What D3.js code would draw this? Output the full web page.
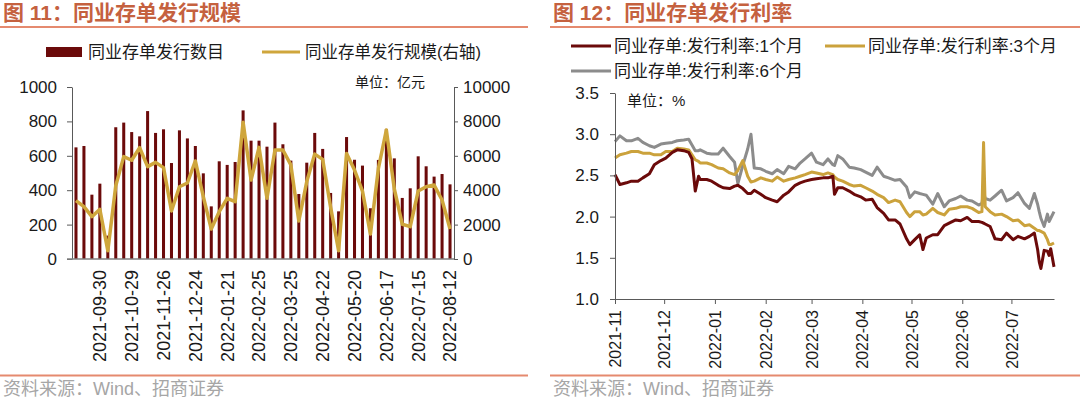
<!DOCTYPE html>
<html>
<head>
<meta charset="utf-8">
<script src="https://cdn.jsdelivr.net/npm/d3@7"></script>
<style>
  body { margin: 0; background: #fff; }
  svg { display: block; font-family: "Liberation Sans", "Noto Sans CJK SC", sans-serif; }
</style>
</head>
<body>
<div id="wrapper"></div>
<script>
// ---- chart 11 data (weekly) ----
const weekDates = [
  "2021-09-10","2021-09-17","2021-09-24","2021-09-30","2021-10-08","2021-10-15","2021-10-22","2021-10-29",
  "2021-11-05","2021-11-12","2021-11-19","2021-11-26","2021-12-03","2021-12-10","2021-12-17","2021-12-24",
  "2021-12-31","2022-01-07","2022-01-14","2022-01-21","2022-01-28","2022-02-11","2022-02-18","2022-02-25",
  "2022-03-04","2022-03-11","2022-03-18","2022-03-25","2022-04-01","2022-04-08","2022-04-15","2022-04-22",
  "2022-04-29","2022-05-06","2022-05-13","2022-05-20","2022-05-27","2022-06-03","2022-06-10","2022-06-17",
  "2022-06-24","2022-07-01","2022-07-08","2022-07-15","2022-07-22","2022-07-29","2022-08-05","2022-08-12"
]
const issueCount = [
  649, 657, 374, 438, 136, 766, 793, 738, 713, 860, 733, 754, 558, 748, 701, 657,
  498, 306, 568, 547, 564, 864, 688, 688, 653, 793, 667, 572, 378, 560, 733, 640,
  384, 277, 709, 577, 543, 295, 576, 756, 585, 355, 411, 597, 539, 479, 494, 434
]
const issueAmount = [
  3390, 3040, 2460, 2890, 480, 4260, 5950, 5740, 6470, 5370, 5620, 5310, 2790, 4200, 4420, 5700,
  3620, 1740, 2750, 3530, 3330, 7950, 4590, 6490, 3530, 6340, 6340, 5470, 2210, 4500, 6100, 5790,
  3000, 480, 6140, 5170, 3950, 1450, 5270, 7500, 4070, 2020, 1880, 3950, 4200, 4300, 3430, 1740
]
const countTicks = [0, 200, 400, 600, 800, 1000]
const amountTicks = [0, 2000, 4000, 6000, 8000, 10000]

// ---- chart 12 data ----
const rateDates = [
  "2021-11-01","2021-11-04","2021-11-08","2021-11-11","2021-11-15","2021-11-18","2021-11-22","2021-11-25",
  "2021-11-29","2021-12-02","2021-12-06","2021-12-09","2021-12-13","2021-12-16","2021-12-18","2021-12-20",
  "2021-12-22","2021-12-23","2021-12-27","2021-12-30","2022-01-03","2022-01-06","2022-01-10","2022-01-13",
  "2022-01-15","2022-01-18","2022-01-21","2022-01-23","2022-01-25","2022-01-29","2022-02-01","2022-02-05",
  "2022-02-08","2022-02-12","2022-02-15","2022-02-19","2022-02-22","2022-02-25","2022-03-01","2022-03-04",
  "2022-03-08","2022-03-11","2022-03-14","2022-03-15","2022-03-17","2022-03-20","2022-03-24","2022-03-27",
  "2022-03-31","2022-04-03","2022-04-07","2022-04-10","2022-04-14","2022-04-17","2022-04-21","2022-04-24",
  "2022-04-28","2022-04-30","2022-05-03","2022-05-06","2022-05-08","2022-05-10","2022-05-14","2022-05-17",
  "2022-05-21","2022-05-24","2022-05-28","2022-05-31","2022-06-04","2022-06-07","2022-06-11","2022-06-13",
  "2022-06-14","2022-06-15","2022-06-18","2022-06-21","2022-06-25","2022-06-28","2022-07-02","2022-07-05",
  "2022-07-09","2022-07-12","2022-07-15","2022-07-17","2022-07-18","2022-07-19","2022-07-21","2022-07-23",
  "2022-07-24","2022-07-25","2022-07-27"
]
const rate1m = [
  2.51,2.39,2.41,2.43,2.43,2.47,2.52,2.63,2.68,2.71,2.78,2.81,2.80,2.78,2.70,2.31,
  2.49,2.45,2.45,2.43,2.38,2.35,2.34,2.37,2.38,2.34,2.28,2.28,2.32,2.27,2.23,2.20,
  2.18,2.26,2.30,2.38,2.41,2.43,2.45,2.46,2.47,2.47,2.49,2.27,2.35,2.35,2.31,2.27,
  2.24,2.20,2.21,2.11,2.04,1.96,1.96,1.91,1.73,1.66,1.72,1.78,1.60,1.74,1.78,1.78,
  1.89,1.92,1.96,1.95,1.99,1.94,1.94,1.93,1.92,1.91,1.88,1.73,1.72,1.80,1.72,1.76,
  1.73,1.76,1.80,1.60,1.45,1.37,1.59,1.58,1.53,1.61,1.39
]
const rate3m = [
  2.71,2.75,2.77,2.79,2.79,2.77,2.77,2.75,2.75,2.79,2.79,2.83,2.82,2.81,2.75,2.69,
  2.67,2.65,2.65,2.63,2.59,2.58,2.53,2.51,2.56,2.68,2.49,2.42,2.43,2.47,2.45,2.43,
  2.48,2.43,2.45,2.47,2.49,2.51,2.54,2.53,2.51,2.53,2.51,2.48,2.45,2.43,2.39,2.37,
  2.38,2.35,2.31,2.27,2.23,2.17,2.20,2.18,2.05,2.00,2.06,2.06,2.02,2.03,2.10,2.05,
  2.02,2.09,2.10,2.12,2.12,2.10,2.05,2.06,2.90,2.12,2.06,2.02,2.03,2.00,1.95,1.96,
  1.89,1.90,1.86,1.83,1.83,1.82,1.80,1.72,1.66,1.66,1.68
]
const rate6m = [
  2.91,2.98,2.92,2.92,2.95,2.90,2.86,2.84,2.88,2.89,2.90,2.92,2.93,2.94,2.87,2.80,
  2.80,2.81,2.77,2.76,2.76,2.83,2.73,2.66,2.40,2.62,2.82,3.00,2.59,2.58,2.55,2.52,
  2.57,2.52,2.61,2.58,2.65,2.70,2.77,2.66,2.63,2.70,2.63,2.62,2.74,2.70,2.60,2.59,
  2.57,2.54,2.50,2.60,2.49,2.47,2.44,2.45,2.36,2.23,2.30,2.28,2.27,2.26,2.15,2.28,
  2.12,2.19,2.22,2.25,2.20,2.19,2.14,2.16,2.30,2.22,2.20,2.25,2.32,2.19,2.23,2.29,
  2.16,2.10,2.28,2.15,2.06,1.98,1.88,2.03,1.94,1.98,2.06
]
const rateTicks = [1.0, 1.5, 2.0, 2.5, 3.0, 3.5]
const monthTicks = ["2021-11","2021-12","2022-01","2022-02","2022-03","2022-04","2022-05","2022-06","2022-07"]
const rateSeries = [
  {name: "同业存单:发行利率:1个月", values: rate1m, color: "#6b0a0a"},
  {name: "同业存单:发行利率:3个月", values: rate3m, color: "#cba23c"},
  {name: "同业存单:发行利率:6个月", values: rate6m, color: "#8c8c8c"},
]

const titleColor = "#c5613f"
const ruleColor = "#e58a6f"
const barColor = "#6b0a0a"
const amountColor = "#cfa63c"

function drawCharts() {
  const svg = d3.select("#wrapper").append("svg")
      .attr("width", 1080)
      .attr("height", 398)

  // panel frames: title, rules, source
  const panels = [
    {x: 3, ruleX0: 0, ruleX1: 528, title: "图 11：同业存单发行规模"},
    {x: 553, ruleX0: 550, ruleX1: 1080, title: "图 12：同业存单发行利率"},
  ]
  panels.forEach(p => {
    svg.append("text")
        .attr("x", p.x).attr("y", 20)
        .attr("font-size", 21).attr("font-weight", 700)
        .attr("fill", titleColor)
        .text(p.title)
    svg.append("line")
        .attr("x1", p.ruleX0).attr("x2", p.ruleX1)
        .attr("y1", 27).attr("y2", 27)
        .attr("stroke", ruleColor).attr("stroke-width", 2)
    svg.append("line")
        .attr("x1", p.ruleX0).attr("x2", p.ruleX1)
        .attr("y1", 375.5).attr("y2", 375.5)
        .attr("stroke", ruleColor).attr("stroke-width", 2)
    svg.append("text")
        .attr("x", p.x).attr("y", 395)
        .attr("font-size", 18)
        .attr("fill", "#a6a6a6")
        .text("资料来源：Wind、招商证券")
  })

  // ================= chart 11 =================
  const left = {x0: 72, x1: 454, y0: 259, y1: 87}

  const xBand = d3.scaleBand()
      .domain(weekDates)
      .range([left.x0, left.x1])
      .paddingInner(0.62)
      .paddingOuter(0.31)

  const yCount = d3.scaleLinear()
      .domain([0, 1000])
      .range([left.y0, left.y1])

  const yAmount = d3.scaleLinear()
      .domain([0, 10000])
      .range([left.y0, left.y1])

  const c11 = svg.append("g")

  c11.selectAll("rect.bar")
      .data(issueCount).enter().append("rect")
          .attr("class", "bar")
          .attr("x", (d, i) => xBand(weekDates[i]))
          .attr("width", xBand.bandwidth())
          .attr("y", d => yCount(d))
          .attr("height", d => yCount(0) - yCount(d))
          .attr("fill", barColor)

  const amountLine = d3.line()
      .x((d, i) => xBand(weekDates[i]) + xBand.bandwidth() / 2)
      .y(d => yAmount(d))

  c11.append("path")
      .datum(issueAmount)
      .attr("d", amountLine)
      .attr("fill", "none")
      .attr("stroke", amountColor)
      .attr("stroke-width", 3.5)
      .attr("stroke-linejoin", "round")

  const leftAxis = c11.append("g")
      .attr("transform", `translate(${left.x0},0)`)
      .call(d3.axisLeft(yCount).tickValues(countTicks).tickFormat(d3.format("d"))
        .tickSize(5).tickSizeOuter(0).tickPadding(10))
  const rightAxis = c11.append("g")
      .attr("transform", `translate(${left.x1},0)`)
      .call(d3.axisRight(yAmount).tickValues(amountTicks).tickFormat(d3.format("d"))
        .tickSize(4).tickSizeOuter(0).tickPadding(5))
  ;[leftAxis, rightAxis].forEach(a => {
    a.selectAll("path, line").attr("stroke", "#595959")
    a.selectAll("text").attr("font-size", 17).attr("fill", "#1a1a1a").attr("font-family", null)
  })

  const bottom11 = c11.append("g")
      .attr("transform", `translate(0,${left.y0})`)
      .call(d3.axisBottom(xBand)
        .tickValues(weekDates.filter((d, i) => i % 4 === 3))
        .tickSize(0).tickSizeOuter(0))
  bottom11.select(".domain")
      .attr("d", `M${left.x0 - 5},0H${left.x1}`)
      .attr("stroke", "#808080").attr("stroke-width", 1.5)
  bottom11.selectAll("text")
      .attr("font-size", 18).attr("fill", "#1a1a1a").attr("font-family", null)
      .attr("transform", "rotate(-90)")
      .attr("text-anchor", "end")
      .attr("x", -11).attr("y", 0).attr("dy", "0.35em")

  // legend 11
  c11.append("rect")
      .attr("x", 46).attr("y", 47).attr("width", 36).attr("height", 10)
      .attr("fill", barColor)
  c11.append("text")
      .attr("x", 88).attr("y", 58).attr("font-size", 17).attr("fill", "#1a1a1a")
      .text("同业存单发行数目")
  c11.append("line")
      .attr("x1", 262).attr("x2", 300).attr("y1", 52).attr("y2", 52)
      .attr("stroke", amountColor).attr("stroke-width", 3)
  c11.append("text")
      .attr("x", 305).attr("y", 58).attr("font-size", 16.5).attr("fill", "#1a1a1a")
      .text("同业存单发行规模(右轴)")
  c11.append("text")
      .attr("x", 355).attr("y", 87).attr("font-size", 14).attr("fill", "#1a1a1a")
      .text("单位：亿元")

  // ================= chart 12 =================
  const right = {x0: 615, x1: 1054, y0: 299, y1: 93}
  const parseDay = d3.timeParse("%Y-%m-%d")
  const parseMonth = d3.timeParse("%Y-%m")
  const days = rateDates.map(parseDay)

  const xTime = d3.scaleTime()
      .domain(d3.extent(days))
      .range([right.x0, right.x1])

  const yRate = d3.scaleLinear()
      .domain([1, 3.5])
      .range([right.y0, right.y1])

  const c12 = svg.append("g")

  const rateLine = d3.line()
      .x((d, i) => xTime(days[i]))
      .y(d => yRate(d))

  // draw 6M first, 1M on top
  c12.selectAll("path.rate")
      .data(rateSeries.slice().reverse()).enter().append("path")
          .attr("class", "rate")
          .attr("d", s => rateLine(s.values))
          .attr("fill", "none")
          .attr("stroke", s => s.color)
          .attr("stroke-width", 3)
          .attr("stroke-linejoin", "round")

  const yAxis12 = c12.append("g")
      .attr("transform", `translate(${right.x0},0)`)
      .call(d3.axisLeft(yRate).tickValues(rateTicks).tickFormat(d3.format(".1f"))
        .tickSize(5).tickSizeOuter(0).tickPadding(11))
  yAxis12.selectAll("path, line").attr("stroke", "#595959")
  yAxis12.selectAll("text").attr("font-size", 17).attr("fill", "#1a1a1a").attr("font-family", null)

  const xAxis12 = c12.append("g")
      .attr("transform", `translate(0,${right.y0})`)
      .call(d3.axisBottom(xTime)
        .tickValues(monthTicks.map(parseMonth))
        .tickFormat(d3.timeFormat("%Y-%m"))
        .tickSize(5).tickSizeOuter(0))
  xAxis12.selectAll("path, line").attr("stroke", "#595959")
  xAxis12.selectAll("text")
      .attr("font-size", 16).attr("fill", "#1a1a1a").attr("font-family", null)
      .attr("transform", "rotate(-90)")
      .attr("text-anchor", "end")
      .attr("x", -11).attr("y", 0).attr("dy", "0.35em")

  // legend 12
  const legendPos = [[571, 46], [825, 46], [571, 71]]
  const legend = c12.selectAll("g.legend")
      .data(rateSeries).enter().append("g")
          .attr("class", "legend")
          .attr("transform", (d, i) => `translate(${legendPos[i][0]},${legendPos[i][1]})`)
  legend.append("line")
      .attr("x1", 0).attr("x2", 40)
      .attr("stroke", d => d.color).attr("stroke-width", 3)
  legend.append("text")
      .attr("x", 43).attr("y", 6)
      .attr("font-size", 17).attr("fill", "#1a1a1a")
      .text(d => d.name)

  c12.append("text")
      .attr("x", 627).attr("y", 106).attr("font-size", 15).attr("fill", "#1a1a1a")
      .text("单位：%")
}
drawCharts()
</script>
</body>
</html>
